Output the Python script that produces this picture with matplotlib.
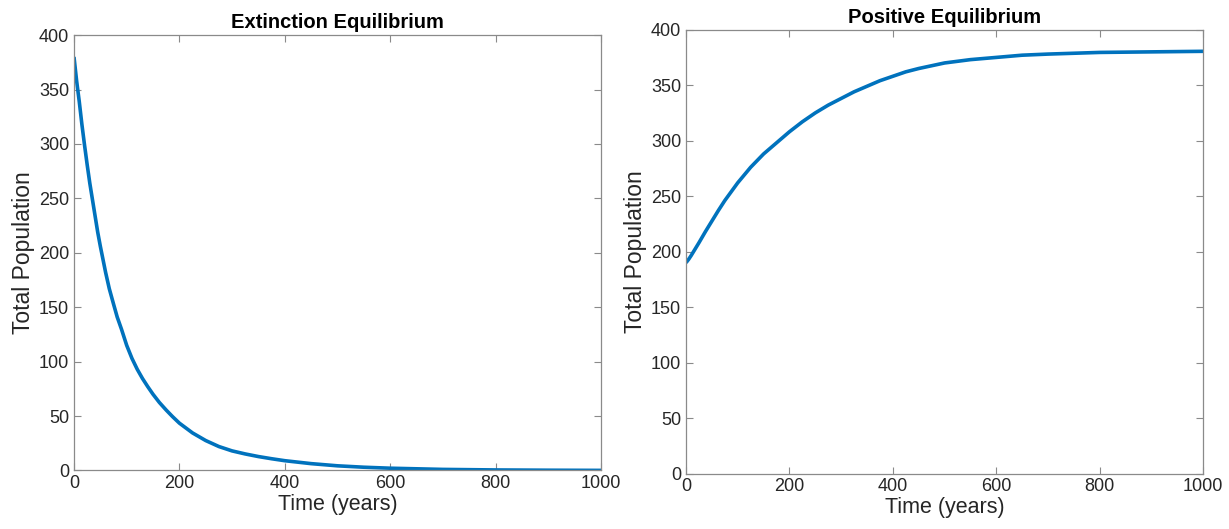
"""Total population over time: extinction vs positive equilibrium."""

import matplotlib
matplotlib.use("Agg")
import matplotlib.pyplot as plt

# Extinction equilibrium
t_ext = [0, 5, 10, 15, 20, 25, 30, 40, 45, 50, 60, 67, 75, 82, 90, 100, 110,
         120, 130, 140, 150, 162, 175, 187, 200, 225, 250, 275, 300, 325, 350,
         375, 400, 450, 500, 550, 600, 700, 800, 900, 1000]
pop_ext = [380, 358, 339, 318, 299, 281, 264, 234, 219, 206, 182, 167, 153,
           141, 130, 115, 103, 93, 84.5, 77, 70, 62.5, 55.5, 49.5, 43.5, 34.5,
           27.5, 22, 18, 15.2, 12.8, 10.8, 9, 6.3, 4.3, 3.0, 2.1, 1.0, 0.5,
           0.25, 0.1]

# Positive equilibrium
t_pos = [0, 5, 10, 25, 37.5, 50, 62.5, 75, 87.5, 100, 112.5, 125, 137.5, 150,
         162.5, 175, 187.5, 200, 225, 250, 275, 300, 325, 350, 375, 400, 425,
         450, 500, 550, 600, 650, 700, 800, 900, 1000]
pop_pos = [190, 193, 196.5, 208, 218, 227.5, 237, 246, 254, 262, 269, 276, 282,
           288, 293, 298, 303, 308, 317, 325, 332, 338, 344, 349, 354, 358,
           362, 365, 370, 373, 375, 377, 378, 379.5, 380, 380.5]

x_ticks = [0, 200, 400, 600, 800, 1000]
y_ticks = [0, 50, 100, 150, 200, 250, 300, 350, 400]

LINE_COLOR = "#0072BD"
SPINE_COLOR = "#8a8a8a"
TEXT_COLOR = "#262626"

plt.rcParams["font.family"] = ["Liberation Sans", "DejaVu Sans"]

fig = plt.figure(figsize=(12.29, 5.29), dpi=100)
ax1 = fig.add_axes([0.0602, 0.1106, 0.4288, 0.823])
ax2 = fig.add_axes([0.5582, 0.1049, 0.4207, 0.839])

panels = [
    (ax1, t_ext, pop_ext, "Extinction Equilibrium"),
    (ax2, t_pos, pop_pos, "Positive Equilibrium"),
]

for ax, t, pop, title in panels:
    ax.plot(t, pop, color=LINE_COLOR, linewidth=2.6, solid_capstyle="butt",
            solid_joinstyle="round")
    ax.set_xlim(0, 1000)
    ax.set_ylim(0, 400)
    ax.set_xticks(x_ticks)
    ax.set_yticks(y_ticks)
    ax.tick_params(direction="in", length=5, width=0.8, colors=SPINE_COLOR,
                   labelcolor=TEXT_COLOR, labelsize=13,
                   top=True, right=True)
    for spine in ax.spines.values():
        spine.set_color(SPINE_COLOR)
        spine.set_linewidth(0.9)
    ax.set_xlabel("Time (years)", fontsize=15.5, color=TEXT_COLOR, labelpad=1)
    ax.set_ylabel("Total Population", fontsize=16.5, color=TEXT_COLOR, labelpad=3)
    ax.set_title(title, fontsize=14.5, fontweight="bold", color="black", pad=5)

fig.savefig("out.png", dpi=100)
